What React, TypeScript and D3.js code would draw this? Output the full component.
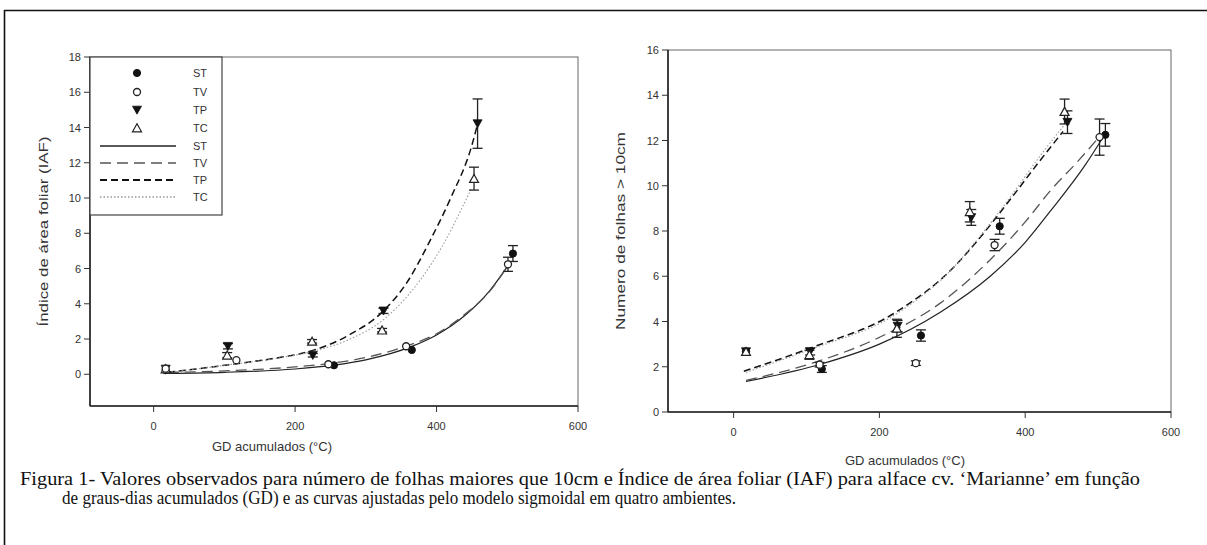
import React from "react";
import * as d3 from "d3";

// ---------- DATA ----------
const xTicks = [0, 200, 400, 600];
const yTicksLeft = [0, 2, 4, 6, 8, 10, 12, 14, 16, 18];
const yTicksRight = [0, 2, 4, 6, 8, 10, 12, 14, 16];
const seriesNames = ["ST", "TV", "TP", "TC"];

// Left panel: Índice de área foliar (IAF) - observed
const iafST_x = [17, 255, 365, 508];
const iafST_y = [0.23, 0.51, 1.38, 6.85];
const iafST_e = [0, 0, 0, 0.45];
const iafTV_x = [17, 117, 247, 357, 501];
const iafTV_y = [0.32, 0.8, 0.57, 1.59, 6.24];
const iafTV_e = [0, 0, 0, 0, 0.4];
const iafTP_x = [17, 105, 225, 325, 458];
const iafTP_y = [0.3, 1.59, 1.08, 3.6, 14.22];
const iafTP_e = [0, 0.15, 0.1, 0.15, 1.4];
const iafTC_x = [17, 104, 224, 323, 453];
const iafTC_y = [0.3, 1.08, 1.87, 2.5, 11.1];
const iafTC_e = [0, 0.15, 0.1, 0.1, 0.65];

// Left panel: fitted curves
const fitIafST_x = [20, 100, 200, 255, 300, 365, 400, 440, 475, 505];
const fitIafST_y = [0.05, 0.11, 0.3, 0.52, 0.82, 1.58, 2.23, 3.33, 4.73, 6.4];
const fitIafTV_x = [20, 100, 200, 250, 300, 357, 400, 440, 475, 500];
const fitIafTV_y = [0.1, 0.19, 0.42, 0.62, 0.95, 1.6, 2.3, 3.4, 4.7, 6.1];
const fitIafTP_x = [20, 60, 108, 170, 225, 275, 325, 358, 391, 420, 450, 458];
const fitIafTP_y = [0.12, 0.3, 0.55, 0.9, 1.35, 2.2, 3.6, 5.2, 7.6, 10.0, 13.0, 14.2];
const fitIafTC_x = [20, 60, 108, 170, 225, 275, 325, 376, 410, 438, 450];
const fitIafTC_y = [0.12, 0.3, 0.55, 0.88, 1.3, 1.95, 3.1, 5.3, 7.4, 9.6, 10.6];

// Right panel: Numero de folhas > 10cm - observed
const folST_x = [17, 121, 257, 365, 510];
const folST_y = [2.67, 1.9, 3.38, 8.21, 12.25];
const folST_e = [0, 0.15, 0.25, 0.35, 0.5];
const folTV_x = [17, 118, 250, 358, 502];
const folTV_y = [2.67, 2.09, 2.16, 7.38, 12.15];
const folTV_e = [0, 0.1, 0.1, 0.25, 0.8];
const folTP_x = [17, 105, 225, 326, 458];
const folTP_y = [2.67, 2.67, 3.8, 8.6, 12.81];
const folTP_e = [0, 0.15, 0.25, 0.35, 0.5];
const folTC_x = [17, 104, 224, 324, 454];
const folTC_y = [2.67, 2.53, 3.7, 8.85, 13.28];
const folTC_e = [0, 0.2, 0.4, 0.45, 0.55];

// Right panel: fitted curves
const fitFolST_x = [17, 118, 200, 283, 352, 400, 435, 482, 508];
const fitFolST_y = [1.35, 2.1, 3.0, 4.4, 6.0, 7.5, 8.9, 10.9, 12.2];
const fitFolTV_x = [17, 112, 200, 283, 351, 400, 435, 470, 500];
const fitFolTV_y = [1.4, 2.2, 3.3, 4.8, 6.7, 8.4, 9.8, 11.0, 12.1];
const fitFolTP_x = [14, 103, 222, 305, 330, 382, 420, 452];
const fitFolTP_y = [1.8, 2.8, 4.4, 6.5, 7.4, 9.5, 11.1, 12.4];
const fitFolTC_x = [17, 104, 224, 305, 330, 382, 420, 454];
const fitFolTC_y = [1.75, 2.75, 4.35, 6.5, 7.45, 9.6, 11.3, 12.7];

const captionLine1 =
  "Figura 1- Valores observados para número de folhas maiores que 10cm e Índice de área foliar (IAF) para alface cv. ‘Marianne’ em função";
const captionLine2 =
  "de graus-dias acumulados (GD) e as curvas ajustadas pelo modelo sigmoidal em quatro ambientes.";

// ---------- STYLES ----------
const lineStyles: Record<string, { stroke: string; width: number; dash: string }> = {
  ST: { stroke: "#222", width: 1.2, dash: "" },
  TV: { stroke: "#555", width: 1.3, dash: "11,6" },
  TP: { stroke: "#111", width: 1.5, dash: "7,4" },
  TC: { stroke: "#999", width: 1.1, dash: "1.5,2" },
};

const FONT = "Liberation Sans, Arial, Helvetica, sans-serif";
const SERIF = "Liberation Serif, Times New Roman, Times, serif";

type Pt = { x: number; y: number; e: number };
const zipPts = (xs: number[], ys: number[], es: number[]): Pt[] =>
  xs.map((x, i) => ({ x, y: ys[i], e: es[i] }));
const zipLine = (xs: number[], ys: number[]) => xs.map((x, i) => [x, ys[i]] as [number, number]);

function Marker({ kind, cx, cy }: { kind: string; cx: number; cy: number }) {
  if (kind === "ST") return <circle cx={cx} cy={cy} r={3.6} fill="#111" stroke="#111" strokeWidth={1} />;
  if (kind === "TV") return <circle cx={cx} cy={cy} r={3.5} fill="#fff" stroke="#222" strokeWidth={1.3} />;
  if (kind === "TP")
    return (
      <path
        d={`M${cx - 4.5},${cy - 3.8} L${cx + 4.5},${cy - 3.8} L${cx},${cy + 4.2} Z`}
        fill="#111"
        stroke="#111"
        strokeWidth={0.8}
      />
    );
  return (
    <path
      d={`M${cx - 4.5},${cy + 3.8} L${cx + 4.5},${cy + 3.8} L${cx},${cy - 4.2} Z`}
      fill="#fff"
      stroke="#222"
      strokeWidth={1.2}
    />
  );
}

type Panel = {
  x: d3.ScaleLinear<number, number>;
  y: d3.ScaleLinear<number, number>;
  yTicks: number[];
  yTitle: string;
  yTitleX: number;
  yTitleLen: number;
  xTitleY: number;
  xTitleX: number;
  obs: Record<string, Pt[]>;
  fits: Record<string, [number, number][]>;
  order: string[];
  legend: boolean;
};

function PanelView({ p }: { p: Panel }) {
  const [x0, x1] = p.x.range();
  const [y0, y1] = p.y.range(); // y0 bottom, y1 top
  const line = d3
    .line<[number, number]>()
    .x((d) => p.x(d[0]))
    .y((d) => p.y(d[1]))
    .curve(d3.curveMonotoneX);
  return (
    <g>
      {/* box */}
      <rect x={x0} y={y1} width={x1 - x0} height={y0 - y1} fill="none" stroke="#666" strokeWidth={1} />
      <line x1={x0} y1={y1} x2={x0} y2={y0} stroke="#222" strokeWidth={1.6} />
      <line x1={x0} y1={y0} x2={x1} y2={y0} stroke="#222" strokeWidth={1.6} />
      {/* y ticks */}
      {p.yTicks.map((t) => (
        <g key={"y" + t}>
          <line x1={x0 - 6} x2={x0} y1={p.y(t)} y2={p.y(t)} stroke="#333" strokeWidth={1} />
          <text x={x0 - 9} y={p.y(t) + 4} textAnchor="end" fontSize={11} fill="#333" fontFamily={FONT}>
            {t}
          </text>
        </g>
      ))}
      {/* x ticks */}
      {xTicks.map((t) => (
        <g key={"x" + t}>
          <line x1={p.x(t)} x2={p.x(t)} y1={y0} y2={y0 + 6} stroke="#333" strokeWidth={1} />
          <text x={p.x(t)} y={y0 + 24} textAnchor="middle" fontSize={11} fill="#333" fontFamily={FONT}>
            {t}
          </text>
        </g>
      ))}
      {/* titles */}
      <text
        transform={`translate(${p.yTitleX},${(y0 + y1) / 2}) rotate(-90)`}
        textAnchor="middle"
        fontSize={13.5}
        fill="#333"
        fontFamily={FONT}
        textLength={p.yTitleLen}
        lengthAdjust="spacingAndGlyphs"
      >
        {p.yTitle}
      </text>
      <text x={p.xTitleX} y={p.xTitleY} textAnchor="middle" fontSize={13} fill="#333" fontFamily={FONT}>
        GD acumulados (°C)
      </text>
      {/* fitted curves */}
      {seriesNames.map((s) => (
        <path
          key={"f" + s}
          d={line(p.fits[s]) || ""}
          fill="none"
          stroke={lineStyles[s].stroke}
          strokeWidth={lineStyles[s].width}
          strokeDasharray={lineStyles[s].dash}
        />
      ))}
      {/* error bars */}
      {seriesNames.map((s) =>
        p.obs[s]
          .filter((d) => d.e > 0)
          .map((d, i) => {
            const cx = p.x(d.x);
            const ya = p.y(d.y + d.e);
            const yb = p.y(d.y - d.e);
            return (
              <g key={"e" + s + i} stroke="#222" strokeWidth={1.3}>
                <line x1={cx} x2={cx} y1={ya} y2={yb} />
                <line x1={cx - 5} x2={cx + 5} y1={ya} y2={ya} />
                <line x1={cx - 5} x2={cx + 5} y1={yb} y2={yb} />
              </g>
            );
          })
      )}
      {/* markers */}
      {p.order.map((s) =>
        p.obs[s].map((d, i) => <Marker key={"m" + s + i} kind={s} cx={p.x(d.x)} cy={p.y(d.y)} />)
      )}
      {p.legend && <Legend x={x0} y={y1} />}
    </g>
  );
}

function Legend({ x, y }: { x: number; y: number }) {
  const w = 132;
  const h = 158;
  const symX = x + 47;
  const textX = x + 103;
  const rowsSym = [16, 35, 53, 71];
  const rowsLine = [89, 106, 123, 140];
  return (
    <g>
      <rect x={x} y={y} width={w} height={h} fill="#fff" stroke="#444" strokeWidth={1.2} />
      {seriesNames.map((s, i) => (
        <g key={"ls" + s}>
          <Marker kind={s} cx={symX} cy={y + rowsSym[i]} />
          <text x={textX} y={y + rowsSym[i] + 4} fontSize={11} fill="#333" fontFamily={FONT}>
            {s}
          </text>
        </g>
      ))}
      {seriesNames.map((s, i) => (
        <g key={"ll" + s}>
          <line
            x1={x + 10}
            x2={x + 86}
            y1={y + rowsLine[i]}
            y2={y + rowsLine[i]}
            stroke={lineStyles[s].stroke}
            strokeWidth={lineStyles[s].width + 0.3}
            strokeDasharray={lineStyles[s].dash}
          />
          <text x={textX} y={y + rowsLine[i] + 4} fontSize={11} fill="#333" fontFamily={FONT}>
            {s}
          </text>
        </g>
      ))}
    </g>
  );
}

export default function App() {
  const left: Panel = {
    x: d3.scaleLinear().domain([-90, 600]).range([90, 578]),
    y: d3.scaleLinear().domain([-1.8, 18]).range([406, 57]),
    yTicks: yTicksLeft,
    yTitle: "Índice de área foliar (IAF)",
    yTitleX: 48,
    yTitleLen: 190,
    xTitleX: 272,
    xTitleY: 451,
    obs: {
      ST: zipPts(iafST_x, iafST_y, iafST_e),
      TV: zipPts(iafTV_x, iafTV_y, iafTV_e),
      TP: zipPts(iafTP_x, iafTP_y, iafTP_e),
      TC: zipPts(iafTC_x, iafTC_y, iafTC_e),
    },
    fits: {
      ST: zipLine(fitIafST_x, fitIafST_y),
      TV: zipLine(fitIafTV_x, fitIafTV_y),
      TP: zipLine(fitIafTP_x, fitIafTP_y),
      TC: zipLine(fitIafTC_x, fitIafTC_y),
    },
    order: ["ST", "TP", "TC", "TV"],
    legend: true,
  };
  const right: Panel = {
    x: d3.scaleLinear().domain([-90, 600]).range([668, 1171]),
    y: d3.scaleLinear().domain([0, 16]).range([412, 50]),
    yTicks: yTicksRight,
    yTitle: "Numero de folhas > 10cm",
    yTitleX: 625,
    yTitleLen: 198,
    xTitleX: 905,
    xTitleY: 465,
    obs: {
      ST: zipPts(folST_x, folST_y, folST_e),
      TV: zipPts(folTV_x, folTV_y, folTV_e),
      TP: zipPts(folTP_x, folTP_y, folTP_e),
      TC: zipPts(folTC_x, folTC_y, folTC_e),
    },
    fits: {
      ST: zipLine(fitFolST_x, fitFolST_y),
      TV: zipLine(fitFolTV_x, fitFolTV_y),
      TP: zipLine(fitFolTP_x, fitFolTP_y),
      TC: zipLine(fitFolTC_x, fitFolTC_y),
    },
    order: ["ST", "TV", "TP", "TC"],
    legend: false,
  };
  return (
    <div style={{ position: "absolute", left: 0, top: 0 }}>
      <svg width={1207} height={545} style={{ display: "block", background: "#fff" }}>
        <rect x={0} y={0} width={1207} height={545} fill="#fff" />
        {/* outer frame */}
        <line x1={4} y1={10.5} x2={1207} y2={10.5} stroke="#111" strokeWidth={1.6} />
        <line x1={4.5} y1={10} x2={4.5} y2={545} stroke="#111" strokeWidth={1.6} />
        <PanelView p={left} />
        <PanelView p={right} />
        <text x={20} y={485} fontSize={18} fill="#111" fontFamily={SERIF} textLength={1120} lengthAdjust="spacingAndGlyphs">
          {captionLine1}
        </text>
        <text x={62} y={504} fontSize={18} fill="#111" fontFamily={SERIF} textLength={674} lengthAdjust="spacingAndGlyphs">
          {captionLine2}
        </text>
      </svg>
    </div>
  );
}
